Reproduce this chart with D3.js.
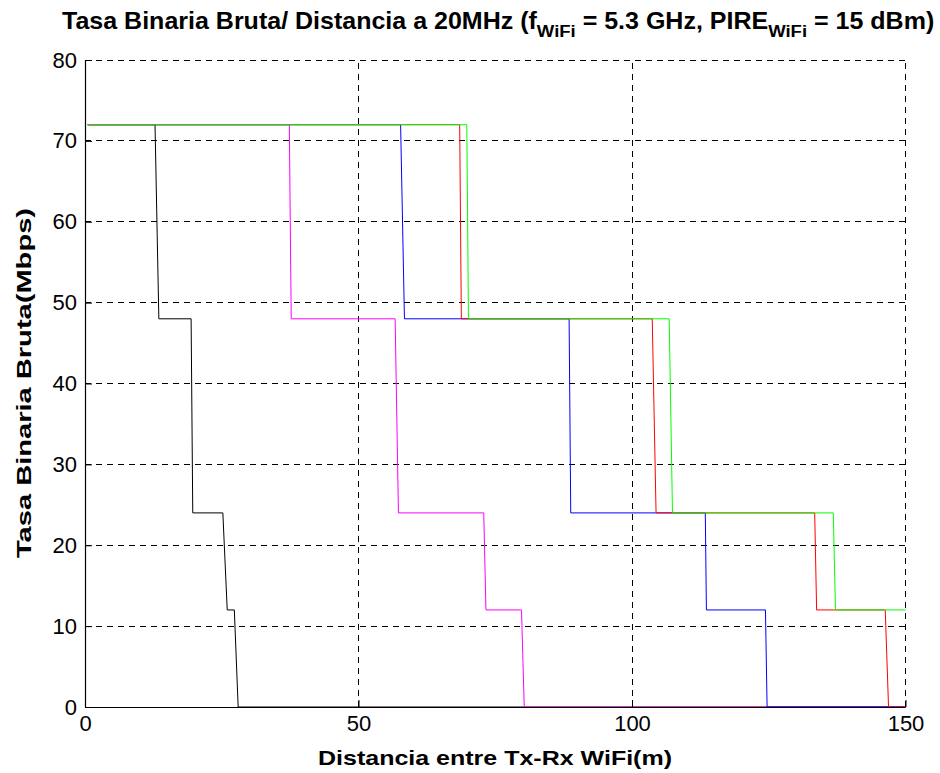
<!DOCTYPE html>
<html><head><meta charset="utf-8">
<script src="https://cdn.jsdelivr.net/npm/d3@7"></script>
<style>
body{margin:0;background:#fff;}
text{font-family:"Liberation Sans",Arial,sans-serif;}
</style></head>
<body><svg id="c" width="940" height="773"></svg>
<script>
const xTicks=[0,50,100,150];
const yTicks=[0,10,20,30,40,50,60,70,80];
const blackD=[0.5,12.8,13.5,19.4,19.7,25.2,26.0,27.3,28.0,150];
const blackR=[72,72,48,48,24,24,12,12,0,0];
const magentaD=[0.5,37.35,37.7,56.7,57.3,72.9,73.3,79.8,80.3,150];
const magentaR=[72,72,48,48,24,24,12,12,0,0];
const blueD=[0.5,57.7,58.4,88.5,88.8,113.4,113.6,124.4,124.7,150];
const blueR=[72,72,48,48,24,24,12,12,0,0];
const redD=[0.5,68.5,68.8,103.7,104.4,133.4,133.75,146.3,146.9,150];
const redR=[72,72,48,48,24,24,12,12,0,0];
const greenD=[0.5,69.8,70.1,106.8,107.4,136.8,137.2,150];
const greenR=[72,72,48,48,24,24,12,12];
const series=[
 {d:blackD,r:blackR,c:"#000000"},
 {d:magentaD,r:magentaR,c:"#ff00ff"},
 {d:blueD,r:blueR,c:"#0000ff"},
 {d:redD,r:redR,c:"#ff0000"},
 {d:greenD,r:greenR,c:"#00ff00"}
];
const svg=d3.select("#c");
const L=85,R=905.5,T=60,B=707;
const x=d3.scaleLinear().domain([0,150]).range([L,R]);
const y=d3.scaleLinear().domain([0,80]).range([B,T]);
const g=svg.append("g");
g.selectAll(".gx").data(xTicks.slice(1)).join("line")
 .attr("x1",d=>x(d)).attr("x2",d=>x(d)).attr("y1",B).attr("y2",T)
 .attr("stroke","#000").attr("stroke-width",1).attr("stroke-dasharray","6,5").attr("shape-rendering","crispEdges");
g.selectAll(".gy").data(yTicks.slice(1)).join("line")
 .attr("y1",d=>y(d)).attr("y2",d=>y(d)).attr("x1",L).attr("x2",R)
 .attr("stroke","#000").attr("stroke-width",1).attr("stroke-dasharray","6,5").attr("shape-rendering","crispEdges");
const line=d3.line().x(p=>x(p[0])).y(p=>y(p[1]));
series.forEach(s=>{
 const pts=s.d.map((d,i)=>[d,s.r[i]]);
 g.append("path").attr("d",line(pts)).attr("fill","none").attr("stroke",s.c).attr("stroke-width",1);
});
const xa=d3.axisBottom(x).tickValues(xTicks).tickSize(-7).tickPadding(8).tickFormat(d3.format("d"));
const ya=d3.axisLeft(y).tickValues(yTicks).tickSize(-7).tickPadding(8).tickFormat(d3.format("d"));
const gx=svg.append("g").attr("transform",`translate(0,${B})`).call(xa);
const gy=svg.append("g").attr("transform",`translate(${L},0)`).call(ya);
[gx,gy].forEach(a=>{
 a.select(".domain").attr("stroke","#000").attr("stroke-width",1.2);
 a.selectAll(".tick line").attr("stroke","#000");
 a.selectAll(".tick text").attr("font-size",22).attr("fill","#000").attr("font-family","Liberation Sans, Arial, sans-serif");
});
gx.select(".domain").attr("d",`M${L},0.5H${R}`);
gy.select(".domain").attr("d",`M0.5,${B}V${T}`);
svg.append("text").attr("x",495).attr("y",765).attr("text-anchor","middle")
 .attr("font-size",21).attr("font-weight","bold")
 .attr("textLength",354).attr("lengthAdjust","spacingAndGlyphs").text("Distancia entre Tx-Rx WiFi(m)");
svg.append("text").attr("transform","translate(31,383) rotate(-90)").attr("text-anchor","middle")
 .attr("font-size",21).attr("font-weight","bold")
 .attr("textLength",350).attr("lengthAdjust","spacingAndGlyphs").text("Tasa Binaria Bruta(Mbps)");
const tg=svg.append("g");
const t=tg.append("text").attr("x",0).attr("y",0).attr("text-anchor","start")
 .attr("font-size",23).attr("font-weight","bold");
t.append("tspan").text("Tasa Binaria Bruta/ Distancia a 20MHz (f");
t.append("tspan").attr("dy",8).attr("font-size",17).text("WiFi");
t.append("tspan").attr("dy",-8).text(" = 5.3 GHz, PIRE");
t.append("tspan").attr("dy",8).attr("font-size",17).text("WiFi");
t.append("tspan").attr("dy",-8).text(" = 15 dBm)");
const bb=t.node().getBBox();
const sx=873/bb.width;
tg.attr("transform",`translate(62,29) scale(${sx},1)`);
</script></body></html>
